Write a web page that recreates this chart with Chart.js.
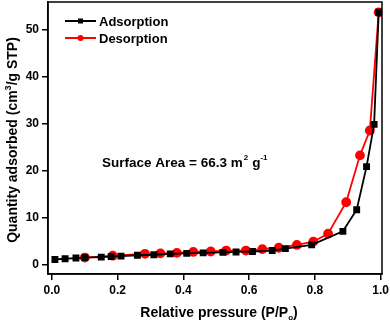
<!DOCTYPE html>
<html>
<head>
<meta charset="utf-8">
<script src="https://cdn.jsdelivr.net/npm/chart.js@4"></script>
<style>
  html, body { margin: 0; padding: 0; background: #fff; }
  #wrap { width: 390px; height: 323px; }
</style>
</head>
<body>
<div id="wrap"><canvas id="bet"></canvas></div>
<script>
// isotherm data
const adsP = [0.009, 0.04, 0.073, 0.10, 0.15, 0.18, 0.21, 0.26, 0.31, 0.36, 0.41, 0.46, 0.52, 0.56, 0.61, 0.67, 0.71, 0.79, 0.885, 0.927, 0.957, 0.98, 0.994];
const adsQ = [1.1, 1.25, 1.4, 1.5, 1.6, 1.7, 1.8, 2.0, 2.1, 2.3, 2.4, 2.5, 2.6, 2.7, 2.8, 3.0, 3.4, 4.2, 7.1, 11.7, 20.9, 29.9, 53.8];
const desP = [0.994, 0.967, 0.937, 0.895, 0.84, 0.795, 0.745, 0.69, 0.64, 0.59, 0.53, 0.483, 0.43, 0.38, 0.33, 0.283, 0.185, 0.10];
const desQ = [53.8, 28.6, 23.3, 13.3, 6.6, 4.9, 4.2, 3.6, 3.3, 3.0, 3.0, 2.8, 2.7, 2.5, 2.4, 2.3, 1.9, 1.5];
const xTicks = [0, 0.2, 0.4, 0.6, 0.8, 1.0];
const yTicks = [0, 10, 20, 30, 40, 50];

const FONT = '"Liberation Sans", Arial, sans-serif';

function pts(xs, ys) {
    return xs.map((x, i) => ({ x: x, y: ys[i] }));
}

function noPad(s) {
    s.paddingTop = 0;
    s.paddingBottom = 0;
    s.paddingLeft = 0;
    s.paddingRight = 0;
}

// frame, legend, titles and the surface-area note
const extras = {
    id: 'extras',
    afterDraw(chart) {
        const ctx = chart.ctx;
        const a = chart.chartArea;
        ctx.save();
        ctx.strokeStyle = '#000';
        ctx.lineWidth = 1.5;
        ctx.strokeRect(a.left, a.top, a.right - a.left, a.bottom - a.top);

        // legend
        const items = [
            { label: 'Adsorption', color: '#000', style: 'rect', y: 21 },
            { label: 'Desorption', color: '#ff0000', style: 'circle', y: 38 }
        ];
        ctx.font = 'bold 13px ' + FONT;
        ctx.textBaseline = 'middle';
        items.forEach(it => {
            ctx.strokeStyle = it.color;
            ctx.fillStyle = it.color;
            ctx.lineWidth = 2;
            ctx.beginPath();
            ctx.moveTo(65, it.y);
            ctx.lineTo(96, it.y);
            ctx.stroke();
            if (it.style === 'rect') {
                ctx.fillRect(78, it.y - 2.5, 5, 5);
            } else {
                ctx.beginPath();
                ctx.arc(80.5, it.y, 3, 0, Math.PI * 2);
                ctx.fill();
            }
            ctx.fillStyle = '#000';
            ctx.textAlign = 'left';
            ctx.fillText(it.label, 99, it.y + 1);
        });

        // annotation
        ctx.fillStyle = '#000';
        ctx.font = 'bold 13.5px ' + FONT;
        ctx.textAlign = 'left';
        ctx.textBaseline = 'alphabetic';
        let x = 102, y = 167;
        const t1 = 'Surface Area = 66.3 m';
        ctx.fillText(t1, x, y);
        x += ctx.measureText(t1).width;
        ctx.font = 'bold 8px ' + FONT;
        ctx.fillText('2', x + 1, y - 7);
        x += ctx.measureText('2').width + 5;
        ctx.font = 'bold 13.5px ' + FONT;
        ctx.fillText('g', x, y);
        x += ctx.measureText('g').width;
        ctx.font = 'bold 8px ' + FONT;
        ctx.fillText('-1', x, y - 7);

        // x title
        ctx.font = 'bold 14px ' + FONT;
        const xt = 'Relative pressure (P/P';
        const wMain = ctx.measureText(xt).width;
        ctx.font = 'bold 8px ' + FONT;
        const wSub = ctx.measureText('o').width;
        ctx.font = 'bold 14px ' + FONT;
        const wEnd = ctx.measureText(')').width;
        let xs = 219 - (wMain + wSub + wEnd) / 2;
        const yb = 317;
        ctx.fillText(xt, xs, yb);
        xs += wMain;
        ctx.font = 'bold 8px ' + FONT;
        ctx.fillText('o', xs, yb + 3);
        xs += wSub;
        ctx.font = 'bold 14px ' + FONT;
        ctx.fillText(')', xs, yb);

        // y title
        ctx.translate(17, 140);
        ctx.rotate(-Math.PI / 2);
        ctx.font = 'bold 14px ' + FONT;
        const ya = 'Quantity adsorbed (cm';
        const yc = '/g STP)';
        const wa = ctx.measureText(ya).width;
        const wc = ctx.measureText(yc).width;
        ctx.font = 'bold 9px ' + FONT;
        const w3 = ctx.measureText('3').width;
        let yx = -(wa + w3 + wc) / 2;
        ctx.font = 'bold 14px ' + FONT;
        ctx.fillText(ya, yx, 0);
        yx += wa;
        ctx.font = 'bold 9px ' + FONT;
        ctx.fillText('3', yx, -6);
        yx += w3;
        ctx.font = 'bold 14px ' + FONT;
        ctx.fillText(yc, yx, 0);
        ctx.restore();
    }
};

new Chart(document.getElementById('bet'), {
    type: 'scatter',
    data: {
        datasets: [
            {
                label: 'Adsorption',
                data: pts(adsP, adsQ),
                showLine: true,
                borderColor: '#000',
                backgroundColor: '#000',
                borderWidth: 1.8,
                pointStyle: 'rect',
                pointRadius: 3.6,
                pointHoverRadius: 3.6
            },
            {
                label: 'Desorption',
                data: pts(desP, desQ),
                showLine: true,
                borderColor: '#ff0000',
                backgroundColor: '#ff0000',
                borderWidth: 1.8,
                pointStyle: 'circle',
                pointRadius: 4,
                pointHoverRadius: 4
            }
        ]
    },
    options: {
        responsive: true,
        maintainAspectRatio: false,
        animation: false,
        events: [],
        layout: { autoPadding: false, padding: { top: 2, right: 8, left: 0, bottom: 0 } },
        plugins: {
            legend: { display: false },
            tooltip: { enabled: false }
        },
        scales: {
            x: {
                type: 'linear',
                min: -0.012,
                max: 1.004,
                afterBuildTicks: s => { s.ticks = xTicks.map(v => ({ value: v })); },
                afterFit: s => { s.height = 49; noPad(s); },
                grid: { drawOnChartArea: false, drawTicks: true, tickLength: 6, color: '#000', lineWidth: 1.5 },
                border: { display: true, color: '#000', width: 1.5 },
                ticks: {
                    color: '#000',
                    padding: 3,
                    maxRotation: 0,
                    font: { family: FONT, size: 12, weight: 'bold' },
                    callback: v => v.toFixed(1)
                }
            },
            y: {
                type: 'linear',
                min: -2,
                max: 56,
                afterBuildTicks: s => { s.ticks = yTicks.map(v => ({ value: v })); },
                afterFit: s => { s.width = 48; noPad(s); },
                grid: { drawOnChartArea: false, drawTicks: true, tickLength: 6, color: '#000', lineWidth: 1.5 },
                border: { display: true, color: '#000', width: 1.5 },
                ticks: {
                    color: '#000',
                    padding: 3,
                    font: { family: FONT, size: 12, weight: 'bold' },
                    callback: v => String(v)
                }
            }
        }
    },
    plugins: [extras]
});
</script>
</body>
</html>
